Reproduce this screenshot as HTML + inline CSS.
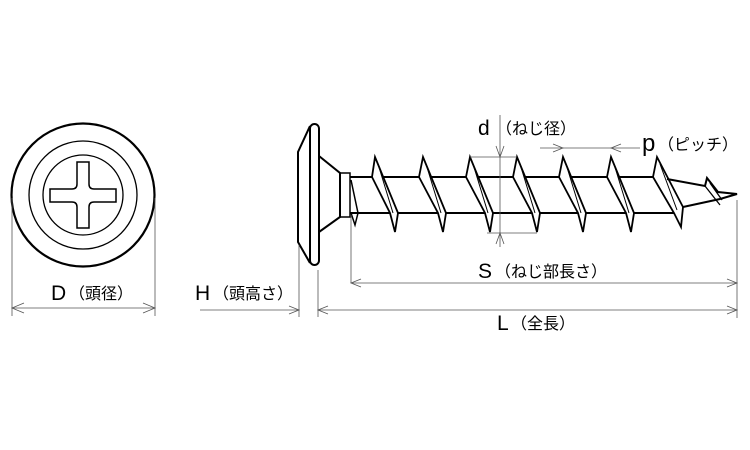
<!DOCTYPE html>
<html><head><meta charset="utf-8"><style>
html,body{margin:0;padding:0;background:#fff;}
svg{display:block}
text{font-family:"Liberation Sans","Noto Sans CJK JP",sans-serif;fill:#000}
</style></head><body>
<svg width="750" height="450" viewBox="0 0 750 450" xmlns="http://www.w3.org/2000/svg">
<g fill="none" stroke="#000">
<!-- head top view -->
<circle cx="83" cy="195" r="71.5" stroke-width="2.2"/>
<circle cx="83" cy="195" r="54" stroke-width="1.3"/>
<circle cx="83" cy="195" r="40" stroke-width="1.3"/>
<path d="M77 162 H89 V184 Q89 189 94 189 H116 V202 H94 Q89 202 89 207 V228 H77 V207 Q77 202 72 202 H50 V189 H72 Q77 189 77 184 Z" stroke-width="1.5"/>
<!-- D dimension -->
<g stroke-width="0.8" stroke="#555">
<line x1="12" y1="198" x2="12" y2="316"/>
<line x1="155" y1="198" x2="155" y2="316"/>
<line x1="12" y1="308" x2="155" y2="308"/>
<path d="M24 303 L12 308 L24 313 M143 303 L155 308 L143 313"/>
</g>
<!-- side view head -->
<rect x="310" y="124" width="9" height="141" rx="4.5" stroke-width="2"/>
<path d="M310 126 L298 152 V242 L310 263" stroke-width="2"/>
<path d="M319 156 L340 173 V217 L319 232" stroke-width="2"/>
<rect x="340" y="173" width="10" height="44" stroke-width="1.5"/>
<!-- shank -->
<line x1="350" y1="177" x2="667" y2="177" stroke-width="2"/>
<line x1="350" y1="213" x2="683" y2="213" stroke-width="2"/>
<!-- first partial thread at neck -->
<path d="M351 180 L358 213 L355 225 L351 213" stroke-width="1.5"/>
<!-- threads -->
<g stroke-width="1.8" fill="#fff">
<path d="M372 177 L375 157 L398 213 L395 232 L390 213 Z"/>
<path d="M419 177 L423 157 L446 213 L443 232 L438 213 Z"/>
<path d="M466 177 L470 157 L493 213 L490 232 L485 213 Z"/>
<path d="M513 177 L517 157 L540 213 L537 232 L532 213 Z"/>
<path d="M559 177 L563 157 L586 213 L583 232 L578 213 Z"/>
<path d="M607 177 L611 157 L634 213 L631 232 L626 213 Z"/>
<path d="M653 177 L657 157 L683 207 L681 227 L674 213 Z"/>
</g>
<g stroke-width="1">
<path d="M378 164 L393 213 M426 164 L441 213 M473 164 L488 213 M520 164 L535 213 M566 164 L581 213 M614 164 L629 213 M660 164 L677 210"/>
</g>
<!-- tip -->
<path d="M667 179 L705 186 L707 178 L718 192 L737 194 L720 199 L683 207" stroke-width="2"/>
<path d="M705 186 L720 205 M710 183 L722 200" stroke-width="1.3"/>
<!-- d dimension -->
<g stroke-width="0.8" stroke="#555">
<line x1="500" y1="115" x2="500" y2="247"/>
<line x1="470" y1="157" x2="517" y2="157"/>
<line x1="487" y1="233" x2="537" y2="233"/>
<path d="M496 146 L500 157 L504 146 M496 244 L500 233 L504 244"/>
<!-- p dimension -->
<line x1="540" y1="148" x2="640" y2="148"/>
<path d="M553 144 L563 148 L553 152 M621 144 L611 148 L621 152"/>
<!-- H dimension -->
<line x1="299" y1="245" x2="299" y2="317"/>
<line x1="318" y1="270" x2="318" y2="317"/>
<line x1="200" y1="310" x2="299" y2="310"/>
<line x1="318" y1="310" x2="737" y2="310"/>
<path d="M289 306 L299 310 L289 314 M328 306 L318 310 L328 314"/>
<!-- S dimension -->
<line x1="351" y1="215" x2="351" y2="283"/>
<line x1="737" y1="200" x2="737" y2="318"/>
<line x1="351" y1="283" x2="737" y2="283"/>
<path d="M361 279 L351 283 L361 287 M727 279 L737 283 L727 287 M727 306 L737 310 L727 314"/>
</g>
</g>
<text x="51" y="300" font-size="21">D</text>
<text x="69" y="299" font-size="16">（頭径）</text>
<text x="195" y="300" font-size="21">H</text>
<text x="213" y="299" font-size="16">（頭高さ）</text>
<text x="478" y="135" font-size="21">d</text>
<text x="496" y="134" font-size="16">（ねじ径）</text>
<text x="642" y="151" font-size="24">p</text>
<text x="658" y="150" font-size="16">（ピッチ）</text>
<text x="478" y="278" font-size="21">S</text>
<text x="495" y="277" font-size="16">（ねじ部長さ）</text>
<text x="497" y="330" font-size="21">L</text>
<text x="511" y="329" font-size="16">（全長）</text>
</svg>
</body></html>
